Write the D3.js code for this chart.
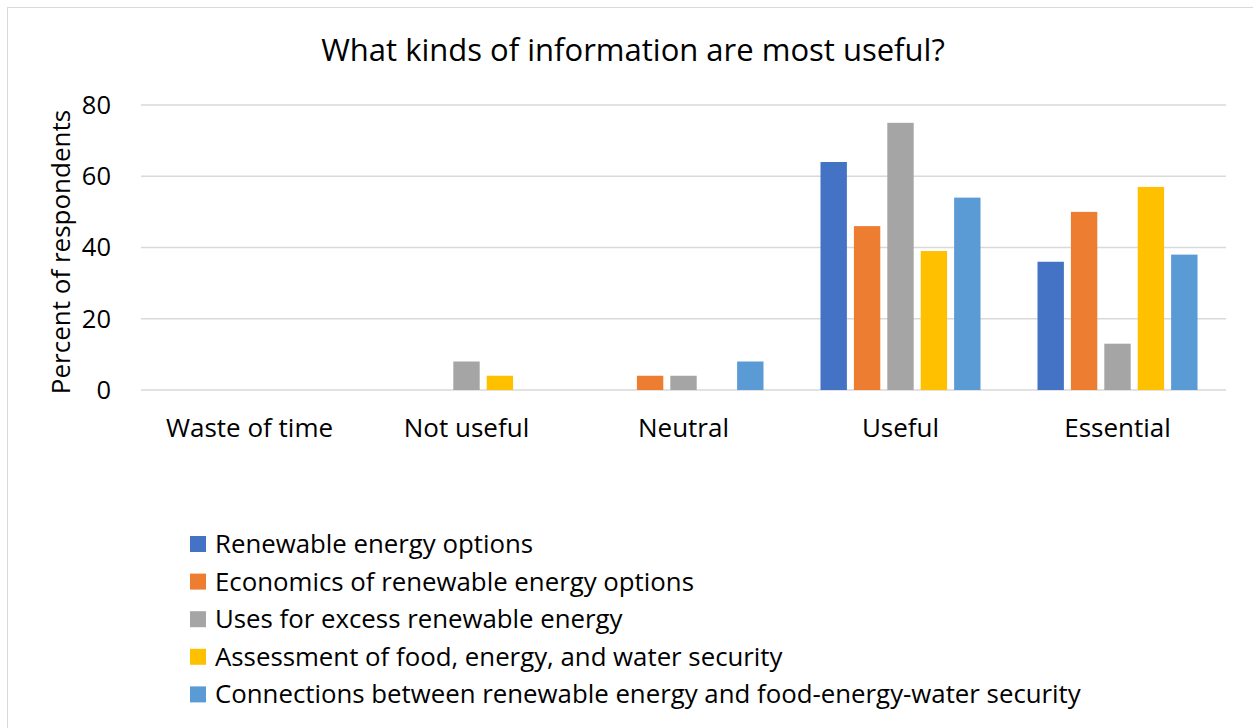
<!DOCTYPE html>
<html><head><meta charset="utf-8">
<script src="https://cdn.jsdelivr.net/npm/d3@7"></script>
<style>body{margin:0;background:#fff}svg{display:block;font-family:"Open Sans",sans-serif}</style>
</head><body><svg id="c" width="1253" height="728"></svg>
<script>
const categories = ["Waste of time","Not useful","Neutral","Useful","Essential"];
const seriesNames = ["Renewable energy options","Economics of renewable energy options","Uses for excess renewable energy","Assessment of food, energy, and water security","Connections between renewable energy and food-energy-water security"];
const renewableOptions = [0,0,0,64,36];
const economics = [0,0,4,46,50];
const excessUses = [0,8,4,75,13];
const assessment = [0,4,0,39,57];
const connections = [0,0,8,54,38];
const yTicks = [0,20,40,60,80];
const colors = ["#4472C4","#ED7D31","#A5A5A5","#FFC000","#5B9BD5"];
const seriesValues = [renewableOptions,economics,excessUses,assessment,connections];

const svg = d3.select("#c");
svg.append("rect").attr("x",7.5).attr("y",7.5).attr("width",1260).attr("height",740)
  .attr("fill","none").attr("stroke","#D9D9D9").attr("stroke-width",1);

const L=141, R=1226, T=105, B=390;
const x = d3.scaleBand().domain(categories).range([L,R]).padding(0);
const groupW = 160;
const xi = d3.scaleBand().domain(seriesNames).range([0,groupW]).paddingInner(0.21).paddingOuter(0);
const y = d3.scaleLinear().domain([0,80]).range([B,T]);

svg.append("g").selectAll("line").data(yTicks).join("line")
  .attr("x1",L).attr("x2",R).attr("y1",d=>y(d)).attr("y2",d=>y(d))
  .attr("stroke","#D9D9D9").attr("stroke-width",1.5);

svg.append("g").selectAll("text").data(yTicks).join("text")
  .attr("x",111).attr("y",d=>y(d)).attr("dy","0.35em").attr("text-anchor","end")
  .attr("font-size",25.5).attr("fill","#000").text(d=>d);

const data=[];
seriesNames.forEach((s,si)=>categories.forEach((c,ci)=>data.push({s,c,v:seriesValues[si][ci],col:colors[si]})));
svg.append("g").selectAll("rect").data(data.filter(d=>d.v>0)).join("rect")
  .attr("x",d=>x(d.c)+x.bandwidth()/2-groupW/2+xi(d.s))
  .attr("width",xi.bandwidth())
  .attr("y",d=>y(d.v)).attr("height",d=>B-y(d.v))
  .attr("fill",d=>d.col);

svg.append("g").selectAll("text").data(categories).join("text")
  .attr("x",d=>x(d)+x.bandwidth()/2).attr("y",437).attr("text-anchor","middle")
  .attr("font-size",26).attr("fill","#000").text(d=>d);

svg.append("text").attr("transform","translate(70,252) rotate(-90)").attr("text-anchor","middle")
  .attr("font-size",26).attr("fill","#000").text("Percent of respondents");

svg.append("text").attr("x",633).attr("y",61).attr("text-anchor","middle")
  .attr("font-size",31).attr("fill","#000").text("What kinds of information are most useful?");

const lg = svg.append("g").selectAll("g").data(seriesNames).join("g")
  .attr("transform",(d,i)=>`translate(190,${544+i*37.6})`);
lg.append("rect").attr("x",0).attr("y",-8).attr("width",16).attr("height",16).attr("fill",(d,i)=>colors[i]);
lg.append("text").attr("x",25).attr("dy","0.35em").attr("font-size",25.8).attr("fill","#000").text(d=>d);
</script></body></html>
